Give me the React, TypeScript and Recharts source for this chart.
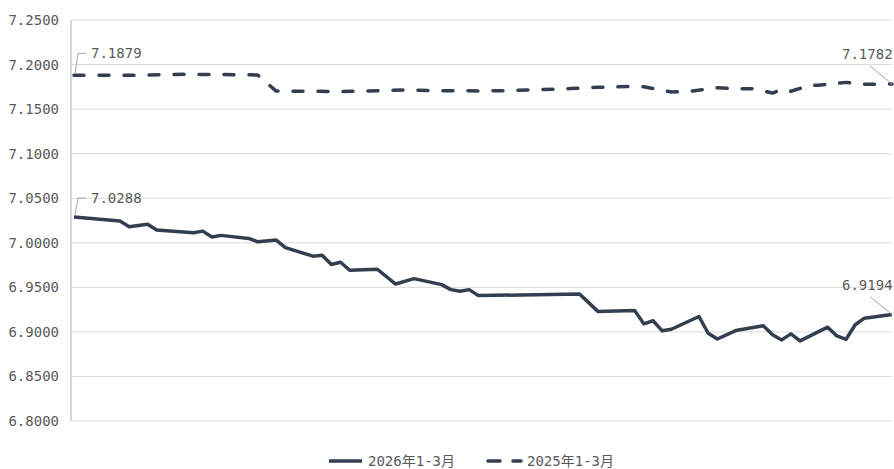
import React from 'react';
import { LineChart, Line, XAxis, YAxis, CartesianGrid, Legend } from 'recharts';

// Calendar days shown on the category axis (Jan 1 – Mar 31)
const monthLengths: [string, number][] = [['01', 31], ['02', 28], ['03', 31]];
const days: string[] = monthLengths.flatMap(([m, n]) =>
  Array.from({ length: n }, (_, i) => `${m}-${String(i + 1).padStart(2, '0')}`)
);

// USD/CNY readings, 2026 Q1
const rate2026: [string, number][] = [
  ['01-01', 7.0288], ['01-06', 7.0244], ['01-07', 7.018], ['01-09', 7.0207], ['01-10', 7.0143],
  ['01-14', 7.0112], ['01-15', 7.0131], ['01-16', 7.0064], ['01-17', 7.0083], ['01-20', 7.0049],
  ['01-21', 7.0011], ['01-23', 7.003], ['01-24', 6.9945], ['01-27', 6.985], ['01-28', 6.986],
  ['01-29', 6.9756], ['01-30', 6.9782], ['01-31', 6.9692], ['02-03', 6.9703], ['02-05', 6.9537],
  ['02-07', 6.9598], ['02-10', 6.953], ['02-11', 6.9474], ['02-12', 6.9455], ['02-13', 6.9474],
  ['02-14', 6.9407], ['02-25', 6.9425], ['02-27', 6.923], ['03-03', 6.924], ['03-04', 6.909],
  ['03-05', 6.9125], ['03-06', 6.9012], ['03-07', 6.903], ['03-10', 6.9173], ['03-11', 6.8985],
  ['03-12', 6.892], ['03-14', 6.9015], ['03-17', 6.9068], ['03-18', 6.8967], ['03-19', 6.891],
  ['03-20', 6.8978], ['03-21', 6.8899], ['03-24', 6.9053], ['03-25', 6.8955], ['03-26', 6.8917],
  ['03-27', 6.908], ['03-28', 6.9154], ['03-31', 6.9194],
];

// USD/CNY readings, 2025 Q1
const rate2025: [string, number][] = [
  ['01-01', 7.1879], ['01-07', 7.188], ['01-13', 7.189], ['01-20', 7.1886], ['01-21', 7.1882],
  ['01-23', 7.1702], ['01-27', 7.17], ['01-30', 7.1698], ['02-02', 7.1703], ['02-06', 7.1716],
  ['02-10', 7.1706], ['02-15', 7.1704], ['02-18', 7.171], ['02-21', 7.172], ['02-24', 7.173],
  ['02-27', 7.1745], ['03-03', 7.1755], ['03-04', 7.175], ['03-07', 7.1692], ['03-09', 7.17],
  ['03-12', 7.174], ['03-14', 7.1728], ['03-16', 7.1728], ['03-18', 7.168], ['03-19', 7.1722],
  ['03-20', 7.17], ['03-22', 7.1765], ['03-23', 7.1768], ['03-26', 7.18], ['03-28', 7.1778],
  ['03-31', 7.1782],
];

const yTicks = [6.8, 6.85, 6.9, 6.95, 7.0, 7.05, 7.1, 7.15, 7.2, 7.25];

const name2026 = '2026年1-3月';
const name2025 = '2025年1-3月';

const map2026 = new Map(rate2026);
const map2025 = new Map(rate2025);
const data = days.map((d) => ({
  day: d,
  y2026: map2026.get(d) ?? null,
  y2025: map2025.get(d) ?? null,
}));

const LINE = '#333F50';
const TEXT = '#595959';
const GRID = '#D9D9D9';
const LEADER = '#A6A6A6';
const FONT = "'DejaVu Sans Mono', 'Noto Sans CJK SC', monospace";
const FONT_SIZE = 14;

const lastIndex = days.length - 1;

// Endpoint callouts: first point gets an elbow leader, last point a slanted one
const endLabel = (elbowRise: number) => (props: any) => {
  const { x, y, index, value } = props;
  if (value == null || x == null || y == null) return null;
  if (index === 0) {
    const ty = y - elbowRise;
    return (
      <g>
        <path d={`M${x + 1},${y - 2} L${x + 4},${ty} L${x + 12},${ty}`} stroke={LEADER} fill="none" strokeWidth={1} />
        <text x={x + 17} y={ty} dominantBaseline="central" fill={TEXT} fontSize={FONT_SIZE} fontFamily={FONT}>
          {Number(value).toFixed(4)}
        </text>
      </g>
    );
  }
  if (index === lastIndex) {
    return (
      <g>
        <path d={`M${x - 22},${y - 18} L${x},${y}`} stroke={LEADER} fill="none" strokeWidth={1} />
        <text x={x - 50} y={y - 30} dominantBaseline="central" fill={TEXT} fontSize={FONT_SIZE} fontFamily={FONT}>
          {Number(value).toFixed(4)}
        </text>
      </g>
    );
  }
  return null;
};

const LegendContent = () => (
  <div
    style={{
      display: 'flex',
      justifyContent: 'center',
      alignItems: 'center',
      height: 28,
      lineHeight: '28px',
      fontFamily: FONT,
      fontSize: FONT_SIZE,
      color: TEXT,
    }}
  >
    <svg width={35} height={10} style={{ marginRight: 5 }}>
      <line x1={1} y1={5} x2={34} y2={5} stroke={LINE} strokeWidth={3.5} />
    </svg>
    <span>{name2026}</span>
    <svg width={37} height={10} style={{ marginLeft: 31, marginRight: 4 }}>
      <line x1={2} y1={5} x2={14} y2={5} stroke={LINE} strokeWidth={3.5} strokeLinecap="round" />
      <line x1={27} y1={5} x2={35} y2={5} stroke={LINE} strokeWidth={3.5} strokeLinecap="round" />
    </svg>
    <span>{name2025}</span>
  </div>
);

export default function App() {
  return (
    <div
      style={{
        position: 'fixed',
        left: 0,
        top: 0,
        width: 894,
        height: 469,
        overflow: 'hidden',
        background: '#fff',
      }}
    >
      <LineChart width={942} height={469} data={data} margin={{ top: 20, right: 50, left: 0, bottom: 20 }}>
        <CartesianGrid vertical={false} stroke={GRID} strokeWidth={1} />
        <XAxis dataKey="day" hide padding={{ left: 3, right: 0 }} />
        <YAxis
          width={71}
          domain={[6.8, 7.25]}
          ticks={yTicks}
          interval={0}
          tickFormatter={(v: number) => v.toFixed(4)}
          tick={{ fill: TEXT, fontSize: FONT_SIZE, fontFamily: FONT }}
          tickLine={false}
          tickMargin={6}
          axisLine={{ stroke: GRID, strokeWidth: 2 }}
        />
        <Legend
          verticalAlign="bottom"
          height={30}
          content={LegendContent}
          wrapperStyle={{ position: 'absolute', left: 0, top: 447, width: 942, height: 28 }}
        />
        <Line
          name={name2026}
          dataKey="y2026"
          stroke={LINE}
          strokeWidth={3.5}
          dot={false}
          activeDot={false}
          connectNulls
          isAnimationActive={false}
          strokeLinejoin="round"
          label={endLabel(19)}
        />
        <Line
          name={name2025}
          dataKey="y2025"
          stroke={LINE}
          strokeWidth={3.5}
          strokeDasharray="10 15"
          strokeLinecap="round"
          dot={false}
          activeDot={false}
          connectNulls
          isAnimationActive={false}
          strokeLinejoin="round"
          label={endLabel(22)}
        />
      </LineChart>
    </div>
  );
}
